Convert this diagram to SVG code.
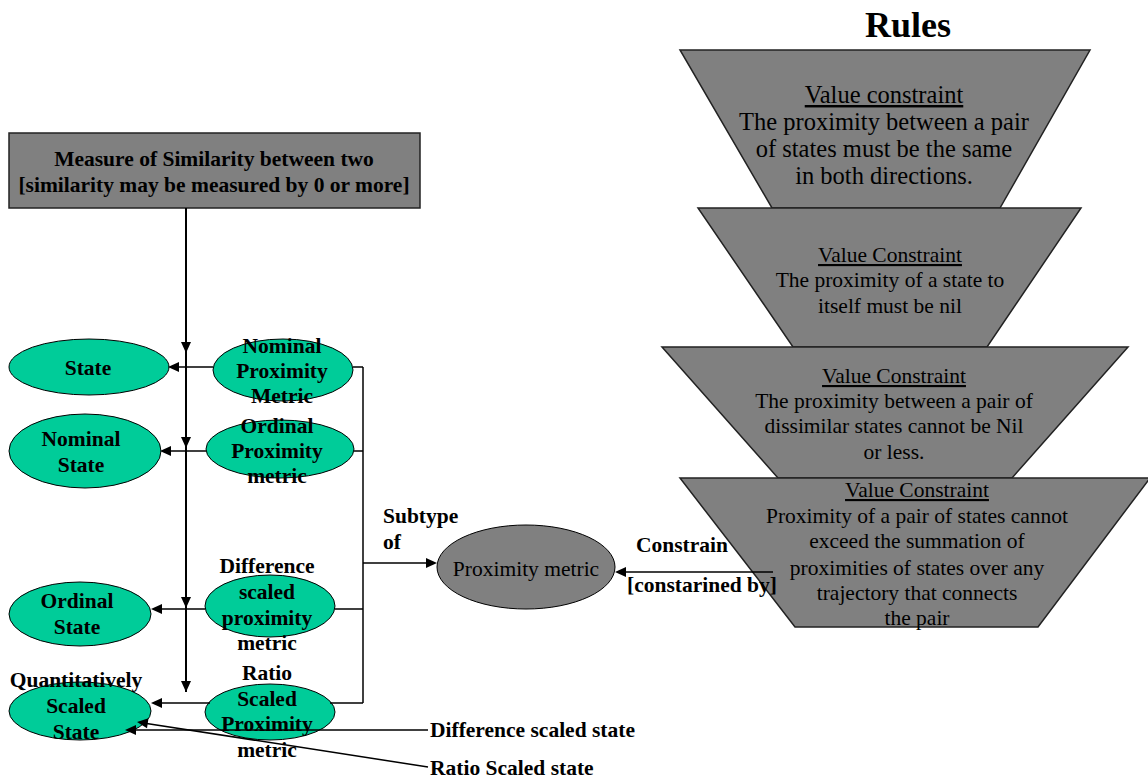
<svg xmlns="http://www.w3.org/2000/svg" width="1148" height="781" viewBox="0 0 1148 781">
<style>
.b{font-family:"Liberation Serif","Times New Roman",serif;font-weight:bold;font-size:21.5px;fill:#000}
.r{font-family:"Liberation Serif","Times New Roman",serif;font-size:21.5px;fill:#000}
.r1{font-size:24.5px}
.m{text-anchor:middle}
.g{fill:#00CC99;stroke:#000;stroke-width:1}
.gray{fill:#808080;stroke:#222;stroke-width:1.5}
.ln{stroke:#000;stroke-width:1.5;fill:none}
.ah{fill:#000}
</style>
<rect width="1148" height="781" fill="#fff"/>

<g id="rules-title"><text class="b m" x="908" y="37" style="font-size:36px">Rules</text></g>

<g id="rule1">
<polygon class="gray" points="680,50 1090,50 1000,208 772,208"/>
<text class="r r1 m" x="884" y="103" text-decoration="underline">Value constraint</text>
<text class="r r1 m" x="884" y="130">The proximity between a pair</text>
<text class="r r1 m" x="884" y="157">of states must be the same</text>
<text class="r r1 m" x="884" y="184">in both directions.</text>
</g>
<g id="rule2">
<polygon class="gray" points="698,208 1081,208 987,347 793,347"/>
<text class="r m" x="890" y="262" text-decoration="underline">Value Constraint</text>
<text class="r m" x="890" y="287">The proximity of a state to</text>
<text class="r m" x="890" y="313">itself must be nil</text>
</g>
<g id="rule3">
<polygon class="gray" points="662,347 1128,347 1012,478 778,478"/>
<text class="r m" x="894" y="383" text-decoration="underline">Value Constraint</text>
<text class="r m" x="894" y="408">The proximity between a pair of</text>
<text class="r m" x="894" y="433">dissimilar states cannot be Nil</text>
<text class="r m" x="894" y="459">or less.</text>
</g>
<g id="rule4">
<polygon class="gray" points="680,478 1150,478 1038,627 795,627"/>
<text class="r m" x="917" y="497" text-decoration="underline">Value Constraint</text>
<text class="r m" x="917" y="523">Proximity of a pair of states cannot</text>
<text class="r m" x="917" y="548">exceed the summation of</text>
<text class="r m" x="917" y="575">proximities of states over any</text>
<text class="r m" x="917" y="600">trajectory that connects</text>
<text class="r m" x="917" y="625">the pair</text>
</g>

<g id="measure">
<rect x="9" y="133" width="411" height="75" class="gray"/>
<text class="b m" x="214" y="166">Measure of Similarity between two</text>
<text class="b m" x="214" y="192">[similarity may be measured by 0 or more]</text>
</g>

<g id="state">
<ellipse class="g" cx="89" cy="367" rx="80" ry="28"/>
<text class="b m" x="88" y="375">State</text>
</g>
<g id="nominal-state">
<ellipse class="g" cx="85" cy="451" rx="76" ry="37"/>
<text class="b m" x="81" y="446">Nominal</text>
<text class="b m" x="81" y="472">State</text>
</g>
<g id="ordinal-state">
<ellipse class="g" cx="80" cy="614" rx="71" ry="32"/>
<text class="b m" x="77" y="608">Ordinal</text>
<text class="b m" x="77" y="634">State</text>
</g>
<g id="quant-state">
<ellipse class="g" cx="80" cy="711" rx="71" ry="29"/>
<text class="b m" x="76" y="687">Quantitatively</text>
<text class="b m" x="76" y="713">Scaled</text>
<text class="b m" x="76" y="739">State</text>
</g>
<g id="nominal-prox">
<ellipse class="g" cx="283" cy="370" rx="70" ry="31"/>
<text class="b m" x="282" y="353">Nominal</text>
<text class="b m" x="282" y="378">Proximity</text>
<text class="b m" x="282" y="403">Metric</text>
</g>
<g id="ordinal-prox">
<ellipse class="g" cx="280" cy="449" rx="74" ry="29"/>
<text class="b m" x="277" y="433">Ordinal</text>
<text class="b m" x="277" y="458">Proximity</text>
<text class="b m" x="277" y="483">metric</text>
</g>
<g id="diff-prox">
<ellipse class="g" cx="270" cy="606" rx="65" ry="31"/>
<text class="b m" x="267" y="573">Difference</text>
<text class="b m" x="267" y="599">scaled</text>
<text class="b m" x="267" y="625">proximity</text>
<text class="b m" x="267" y="650">metric</text>
</g>
<g id="ratio-prox">
<ellipse class="g" cx="270" cy="712" rx="65" ry="28"/>
<text class="b m" x="267" y="680">Ratio</text>
<text class="b m" x="267" y="706">Scaled</text>
<text class="b m" x="267" y="731">Proximity</text>
<text class="b m" x="267" y="757">metric</text>
</g>
<g id="proximity-metric">
<ellipse cx="526" cy="567" rx="89" ry="42" fill="#808080" stroke="#000" stroke-width="1"/>
<text class="r m" x="526" y="576">Proximity metric</text>
</g>

<g id="connectors">
<line class="ln" x1="186" y1="208" x2="186" y2="692" style="stroke-width:2"/>
<path class="ah" d="M181,342 L191,342 L186,353 Z"/>
<path class="ah" d="M181,437 L191,437 L186,448 Z"/>
<path class="ah" d="M181,597 L191,597 L186,608 Z"/>
<path class="ah" d="M181,681 L191,681 L186,692 Z"/>

<line class="ln" x1="363" y1="367" x2="363" y2="703"/>
<line class="ln" x1="363" y1="367" x2="353" y2="367"/>
<line class="ln" x1="213" y1="367" x2="176" y2="367"/>
<path class="ah" d="M168,367 L179,362 L179,372 Z"/>
<line class="ln" x1="363" y1="451" x2="354" y2="451"/>
<line class="ln" x1="206" y1="451" x2="168" y2="451"/>
<path class="ah" d="M160,451 L171,446 L171,456 Z"/>
<line class="ln" x1="363" y1="609" x2="335" y2="609"/>
<line class="ln" x1="205" y1="609" x2="159" y2="609"/>
<path class="ah" d="M151,609 L162,604 L162,614 Z"/>
<line class="ln" x1="363" y1="703" x2="330" y2="703"/>
<line class="ln" x1="210" y1="703" x2="159" y2="703"/>
<path class="ah" d="M151,703 L162,698 L162,708 Z"/>

<line class="ln" x1="363" y1="563" x2="429" y2="563"/>
<path class="ah" d="M437,563 L426,558 L426,568 Z"/>
<text class="b" x="383" y="523">Subtype</text>
<text class="b" x="383" y="549">of</text>

<line class="ln" x1="773" y1="572" x2="623" y2="572"/>
<path class="ah" d="M615,572 L626,567 L626,577 Z"/>
<text class="b" x="636" y="552">Constrain</text>
<text class="b" x="627" y="592">[constarined by]</text>

<line class="ln" x1="428" y1="730" x2="133" y2="730"/>
<path class="ah" d="M125,730 L136,725 L136,735 Z"/>
<text class="b" x="430" y="737">Difference scaled state</text>

<line class="ln" x1="428" y1="767" x2="145" y2="723.2"/>
<path class="ah" d="M137,722 L148.5,718.3 L147,728.2 Z"/>
<text class="b" x="430" y="775">Ratio Scaled state</text>
</g>
</svg>
